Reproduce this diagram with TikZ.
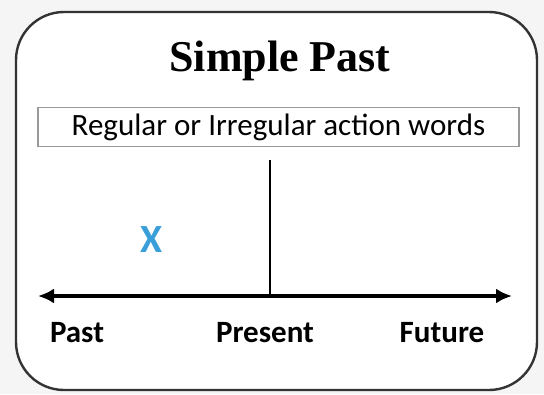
\documentclass[tikz,border=0pt]{standalone}
\usepackage{fontspec}
\usetikzlibrary{arrows.meta}
\setmainfont{Liberation Serif}
\newfontfamily\labelfont{Carlito}
\definecolor{xblue}{HTML}{3A9FD8}
\begin{document}
\begin{tikzpicture}[x=1pt,y=-1pt]
\tikzset{tlabel/.style={font=\labelfont\bfseries\fontsize{31}{33}\selectfont}}
\fill[black!4] (0,0) rectangle (544,394);
\useasboundingbox (0,0) rectangle (544,394);
\draw[line width=2.4pt, black!80, fill=white, rounded corners=48pt] (16,12) rectangle (537,390);
\node[font=\fontsize{44}{46}\selectfont\bfseries] (title) at (280,61){Simple Past};
\node[draw=black!40, line width=1.2pt, minimum width=481pt, minimum height=39pt, inner sep=0pt, font=\labelfont\fontsize{31}{33}\selectfont] (words) at (278.5,127){Regular or Irregular action words};
\coordinate (top) at (270,160);
\coordinate (present) at (270,296);
\coordinate (left) at (38,296);
\coordinate (right) at (512,296);
\draw[line width=3.6pt, -{Latex[length=16pt,width=15pt]}] (present) -- (left);
\draw[line width=3.6pt, -{Latex[length=16pt,width=15pt]}] (present) -- (right);
\draw[line width=2.6pt] (top) -- (present);
\node[text=xblue, font=\labelfont\bfseries\fontsize{40}{40}\selectfont] (x) at (152,240){X};
\node[tlabel] (past) at (77,333){Past};
\node[tlabel] (now) at (265,333){Present};
\node[tlabel] (future) at (442,333){Future};
\end{tikzpicture}
\end{document}
